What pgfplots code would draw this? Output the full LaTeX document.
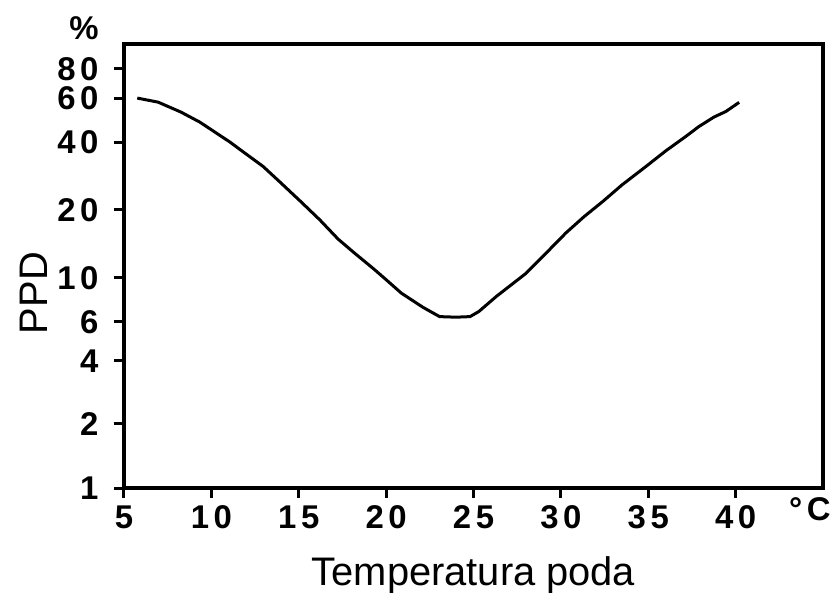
\documentclass[border=0pt]{standalone}
\usepackage{fontspec}
\setmainfont{Liberation Sans}
\usepackage{pgfplots}
\pgfplotsset{compat=1.18}
\newcommand{\tickfont}{\fontsize{33}{35}\selectfont\bfseries\addfontfeature{LetterSpace=14}}
\begin{document}
\begin{tikzpicture}
\begin{axis}[
  scale only axis,
  width=699bp, height=444bp,
  ymode=log,
  xmin=5, xmax=45,
  ymin=1, ymax=129.7,
  axis line style={line width=4bp},
  xtick pos=bottom, ytick pos=left,
  tick style={line width=3bp, black},
  tick align=outside,
  major tick length=10bp,
  minor tick num=0,
  xtick={5,10,15,20,25,30,35,40},
  ytick={1,2.02,4.03,6.17,10,21.08,44.1,71.7,98.9},
  yticklabels={1,2,4,6,10,20,40,60,80},
  xticklabel style={font=\tickfont, yshift=-4bp},
  yticklabel style={font=\tickfont, xshift=-12bp, inner ysep=0pt},
  /pgf/number format/assume math mode=true,
  xlabel={Temperatura poda},
  ylabel={PPD},
  label style={font=\fontsize{40}{44}\selectfont},
  xlabel style={at={([yshift=-97bp]axis description cs:0.5,0)}, anchor=base},
  ylabel style={at={([xshift=-76bp]axis description cs:0,0.439)}, anchor=base, rotate=0},
  clip=false,
]
\addplot[black, line width=3bp] coordinates {
  (5.76,71.7) (6.95,68.6) (8.26,61.5) (9.34,55.1) (10.2,49.4) (11.06,44.3)
  (11.8,39.9) (12.96,33.9) (13.9,28.7) (15.06,23.3) (16.2,18.9) (17.25,15.3)
  (18.2,13.1) (19.25,11.1) (19.9,9.97) (20.87,8.46) (22.1,7.25) (23.06,6.54)
  (24.0,6.50) (24.8,6.54) (25.3,6.91) (26.3,8.15) (28.0,10.5) (29.34,13.6)
  (30.3,16.4) (31.34,19.6) (32.4,23.1) (33.5,27.7) (34.87,33.9) (36.0,40.2)
  (37.15,47.1) (37.9,52.5) (38.77,58.3) (39.44,61.9) (40.2,68.4)
};
\coordinate (sw) at (rel axis cs:0,0);
\coordinate (ne) at (rel axis cs:1,1);
\node[font=\tickfont, anchor=north west, inner sep=0pt] at ([xshift=-34bp,yshift=-9bp]sw -| ne) {°C};
\node[font=\tickfont, anchor=south, inner sep=0pt] at ([xshift=-40bp,yshift=4bp]sw |- ne) {\%};
\end{axis}
\pgfresetboundingbox
\path ([shift={(-124bp,-105bp)}]sw) rectangle ([shift={(8bp,44bp)}]ne);
\end{tikzpicture}
\end{document}
